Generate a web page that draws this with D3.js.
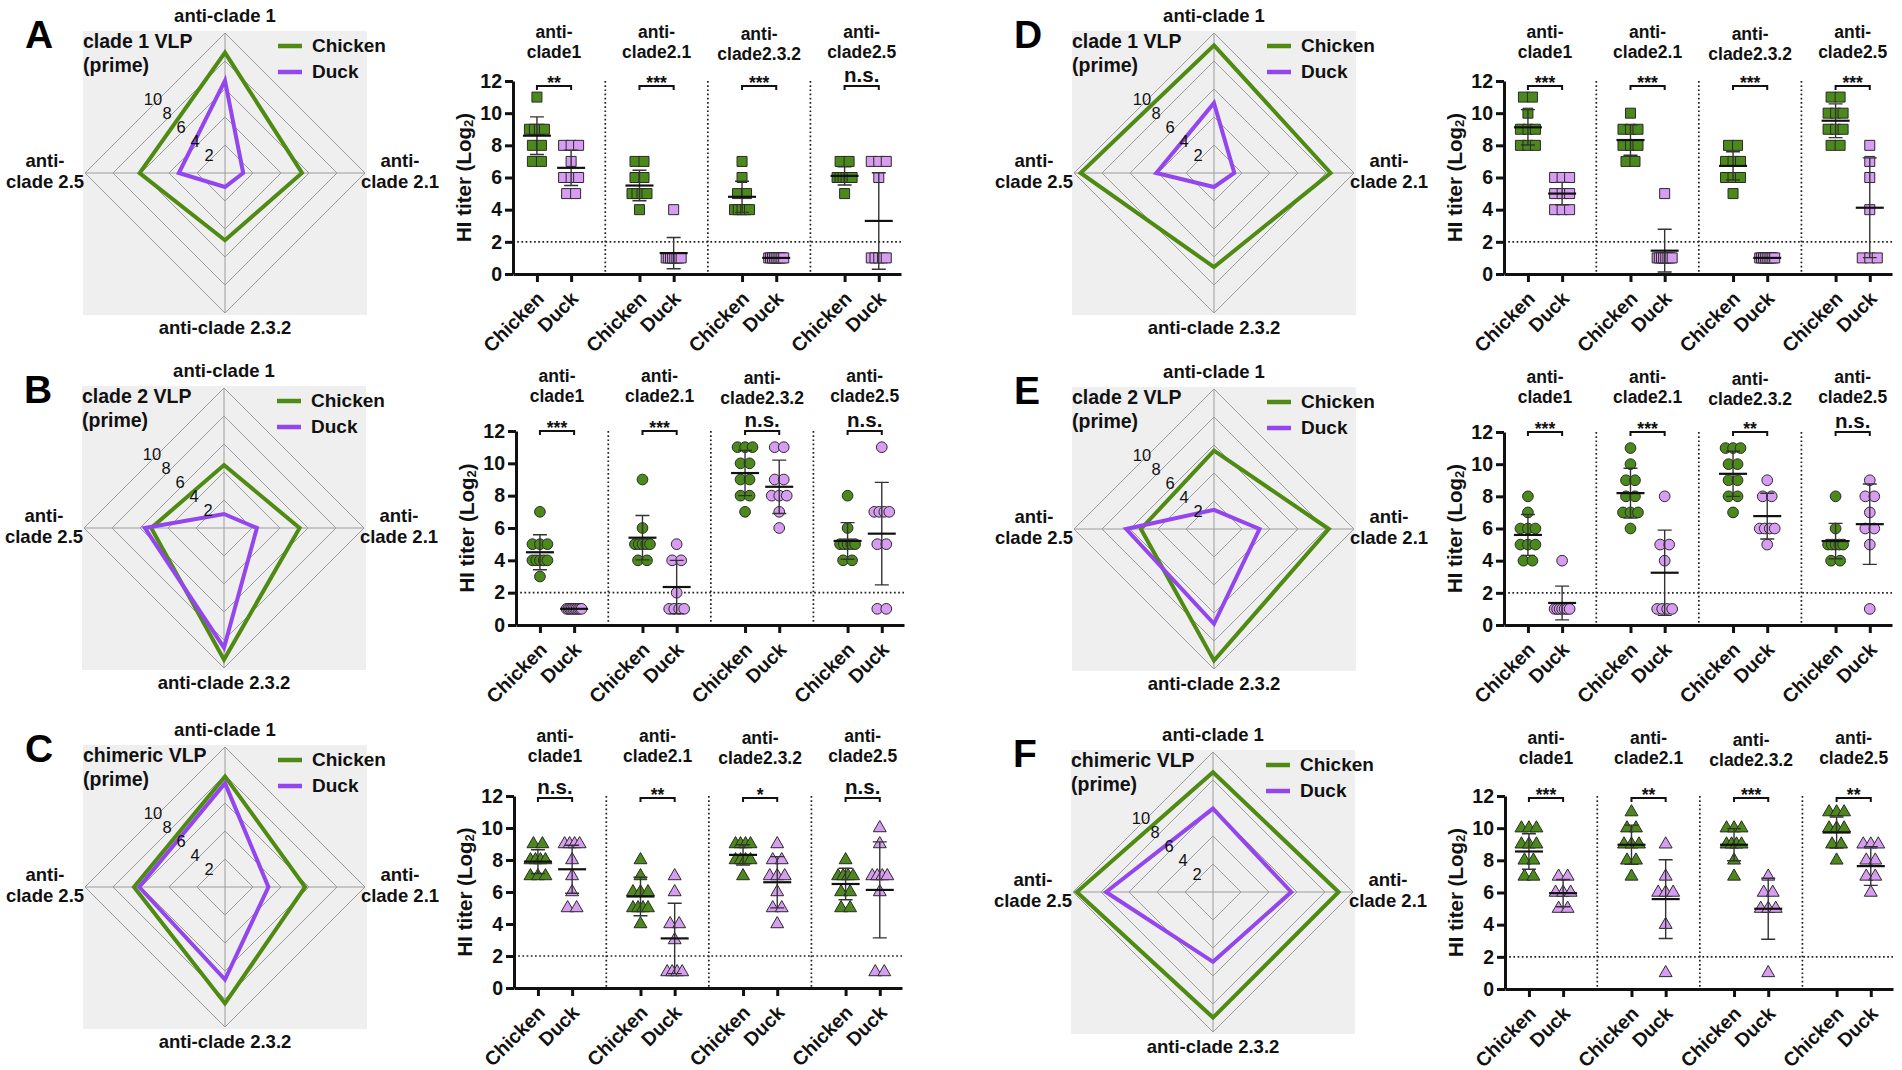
<!DOCTYPE html>
<html>
<head>
<meta charset="utf-8">
<script src="https://cdn.jsdelivr.net/npm/d3@7/dist/d3.min.js"></script>
<style>
  body { margin: 0; background: #fff; }
  text { font-family: Arial, "Liberation Sans", sans-serif; }
</style>
</head>
<body>
<svg id="fig"></svg>
<script>
// ---- data ----
const species = ['Chicken', 'Duck'];
const groupHeads = [['anti-', 'clade1'], ['anti-', 'clade2.1'], ['anti-', 'clade2.3.2'], ['anti-', 'clade2.5']];
const radarAxes = [['anti-clade 1'], ['anti-', 'clade 2.1'], ['anti-clade 2.3.2'], ['anti-', 'clade 2.5']];
const radarTicks = [2, 4, 6, 8, 10];
const yTicks = [0, 2, 4, 6, 8, 10, 12];
const letters = ['A', 'B', 'C', 'D', 'E', 'F'];
const vaccines = ['clade 1 VLP', 'clade 2 VLP', 'chimeric VLP', 'clade 1 VLP', 'clade 2 VLP', 'chimeric VLP'];

// order in every array: chicken/duck for clade1, clade2.1, clade2.3.2, clade2.5
const pointsA = [[11,9,9,9,9,8,8,7,7],[8,8,8,7,6,6,6,5,5],[7,7,6,6,5,5,5,5,4],[4,1,1,1,1,1,1,1,1],
                 [7,6,5,5,4,4,4,4,4],[1,1,1,1,1,1,1,1,1],[7,7,6,6,6,6,6,6,5],[7,7,7,6,1,1,1,1,1]];
const meansA = [8.6, 6.6, 5.5, 1.3, 4.8, 1.0, 6.1, 3.3];
const sdA = [1.17, 1.1, 0.95, 0.97, 0.97, 0, 0.57, 3.0];
const sigA = ['**', '***', '***', 'n.s.'];

const pointsB = [[7,5,5,5,4,4,4,4,4,3],[1,1,1,1,1,1,1,1,1,1],[9,6,5,5,5,5,5,4,4],[5,4,4,2,1,1,1,1],
                 [11,11,11,10,10,9,9,8,8,7],[11,11,9,9,8,8,8,7,6],[8,6,5,5,5,5,5,4,4],[11,7,7,7,7,5,5,1,1]];
const meansB = [4.5, 1.0, 5.4, 2.35, 9.4, 8.55, 5.2, 5.65];
const sdB = [1.08, 0, 1.37, 1.65, 1.4, 1.65, 1.13, 3.17];
const sigB = ['***', '***', 'n.s.', 'n.s.'];

const pointsC = [[9,9,8,8,8,8,7,7,7],[9,9,9,9,8,7,6,5,5],[8,7,6,6,6,5,5,5,5,4],[7,6,4,4,3,1,1,1,1],
                 [9,9,9,9,8,8,8,8,7],[9,8,8,7,7,7,6,5,5,4],[8,7,7,7,7,6,6,5,5],[10,9,7,7,7,7,6,1,1]];
const meansC = [7.9, 7.42, 5.72, 3.1, 8.32, 6.61, 6.5, 6.13];
const sdC = [0.74, 1.5, 1.2, 2.2, 0.63, 1.6, 0.98, 3.0];
const sigC = ['n.s.', '**', '*', 'n.s.'];

const pointsD = [[11,11,10,9,9,9,8,8,8],[6,6,6,5,5,5,4,4,4],[10,9,9,9,8,8,8,7,7],[5,1,1,1,1,1,1,1,1],
                 [8,8,7,7,7,6,6,6,5],[1,1,1,1,1,1,1,1,1],[11,11,10,10,10,9,9,9,8,8],[8,7,6,4,1,1,1]];
const meansD = [9.12, 5.0, 8.33, 1.45, 6.72, 1.0, 9.53, 4.12];
const sdD = [1.1, 0.7, 0.95, 1.33, 0.88, 0, 1.05, 3.1];
const sigD = ['***', '***', '***', '***'];

const pointsE = [[8,7,6,6,6,5,5,5,4,4],[4,1,1,1,1,1,1,1],[11,10,9,9,8,8,7,7,7,6],[8,5,5,4,1,1,1,1],
                 [11,11,11,10,10,9,9,8,8,7],[9,8,8,6,6,6,6,5],[8,6,5,5,5,5,5,4,4],[9,8,8,7,6,6,5,1]];
const meansE = [5.6, 1.37, 8.2, 3.25, 9.4, 6.77, 5.22, 6.27];
const sdE = [1.27, 1.05, 1.55, 2.65, 1.4, 1.42, 1.1, 2.5];
const sigE = ['***', '***', '**', 'n.s.'];

const pointsF = [[10,10,10,9,9,9,8,8,7,7],[7,7,6,6,6,5,5],[11,10,10,9,9,9,8,8,7],[9,7,6,6,6,4,1],
                 [10,10,10,9,9,9,9,8,7],[7,6,6,5,5,5,1],[11,11,11,10,10,10,9,9,8],[9,9,9,8,8,7,7,6]];
const meansF = [8.55, 5.96, 8.97, 5.59, 8.97, 4.99, 9.73, 7.64];
const sdF = [1.1, 0.85, 1.22, 2.45, 1.0, 1.9, 0.96, 1.2];
const sigF = ['***', '**', '***', '**'];

const allPoints = [pointsA, pointsB, pointsC, pointsD, pointsE, pointsF];
const allMeans = [meansA, meansB, meansC, meansD, meansE, meansF];
const allSd = [sdA, sdB, sdC, sdD, sdE, sdF];
const allSig = [sigA, sigB, sigC, sigD, sigE, sigF];

// ---- layout ----
const W = 1902, H = 1070;
const radarR = 140;
const radarCenters = [[225,173],[224,528],[225,887],[1214,173],[1214,529],[1213,892]];
const plotX0 = [513, 516, 514, 1504, 1504, 1505];
const plotY0 = [274, 625, 988, 274, 625, 989];
const plotY12 = [81, 431, 796, 81, 432, 796];
const headY = [38, 382, 742, 38, 383, 744];
const bracketY = [86, 431, 798, 86, 432, 798];
const shapes = [d3.symbolSquare, d3.symbolCircle, d3.symbolTriangle];
const shapeSize = [100, 90, 72];

const lineGreen = '#4f8a12', linePurple = '#9446ee';
const dotGreen = '#4b8a1a', dotPurple = '#d89cf2';

const svg = d3.select('#fig').attr('width', W).attr('height', H);
svg.append('rect').attr('width', W).attr('height', H).attr('fill', '#fff');

function drawRadar(i) {
  const [cx, cy] = radarCenters[i];
  const means = allMeans[i];
  const g = svg.append('g').attr('transform', `translate(${cx},${cy})`);
  const r = d3.scaleLinear().domain([0, 10]).range([0, radarR]);
  const ring = d3.lineRadial()
    .angle((d, k) => k * Math.PI / 2)
    .radius(d => r(d))
    .curve(d3.curveLinearClosed);

  g.append('rect')
    .attr('x', -radarR - 2).attr('y', -radarR - 2)
    .attr('width', 2 * radarR + 4).attr('height', 2 * radarR + 4)
    .attr('fill', '#efefef');

  radarTicks.forEach(t => {
    g.append('path').attr('d', ring([t, t, t, t]))
      .attr('fill', 'none').attr('stroke', '#9c9c9c').attr('stroke-width', 1);
  });
  [0, 1, 2, 3].forEach(k => {
    const a = k * Math.PI / 2;
    g.append('line').attr('x1', 0).attr('y1', 0)
      .attr('x2', r(10) * Math.sin(a)).attr('y2', -r(10) * Math.cos(a))
      .attr('stroke', '#9c9c9c').attr('stroke-width', 1);
  });

  const chick = [0, 2, 4, 6].map(k => means[k]);
  const duck = [1, 3, 5, 7].map(k => means[k]);
  g.append('path').attr('d', ring(chick)).attr('fill', 'none')
    .attr('stroke', lineGreen).attr('stroke-width', 4).attr('stroke-linejoin', 'miter');
  g.append('path').attr('d', ring(duck)).attr('fill', 'none')
    .attr('stroke', linePurple).attr('stroke-width', 4).attr('stroke-linejoin', 'miter');

  g.selectAll('text.rt').data(radarTicks).enter().append('text')
    .attr('x', d => -r(d) / 2 - 2).attr('y', d => -r(d) / 2 - 4)
    .attr('text-anchor', 'middle').attr('dominant-baseline', 'central')
    .attr('font-size', 16.5).attr('fill', '#111').text(d => d);

  const lab = (lines, x, y) => {
    const t = g.append('text').attr('text-anchor', 'middle')
      .attr('font-size', 18.5).attr('font-weight', 'bold').attr('fill', '#111');
    lines.forEach((s, j) => t.append('tspan').attr('x', x).attr('y', y + j * 21).text(s));
  };
  lab(radarAxes[0], 0, -151);
  lab(radarAxes[1], 175, -6);
  lab(radarAxes[2], 0, 161);
  lab(radarAxes[3], -180, -6);

  const title = g.append('text').attr('font-size', 19.5).attr('font-weight', 'bold').attr('fill', '#111');
  title.append('tspan').attr('x', -142).attr('y', -125).text(vaccines[i]);
  title.append('tspan').attr('x', -142).attr('y', -101).text('(prime)');

  [lineGreen, linePurple].forEach((c, j) => {
    g.append('line').attr('x1', 53).attr('x2', 77)
      .attr('y1', -127 + j * 26).attr('y2', -127 + j * 26)
      .attr('stroke', c).attr('stroke-width', 4.5);
    g.append('text').attr('x', 87).attr('y', -121 + j * 26)
      .attr('font-size', 19).attr('font-weight', 'bold').attr('fill', '#111')
      .text(species[j]);
  });

  g.append('text').attr('x', -200).attr('y', -125)
    .attr('font-size', 39).attr('font-weight', 'bold').attr('fill', '#000')
    .text(letters[i]);
}

function spread(vals) {
  const counts = d3.rollup(vals, v => v.length, d => d);
  const seen = new Map();
  return vals.map(v => {
    const n = counts.get(v), k = seen.get(v) || 0;
    seen.set(v, k + 1);
    const w = Math.min((n - 1) * 9, 15);
    return { v, dx: n > 1 ? -w / 2 + k * w / (n - 1) : 0 };
  });
}

function drawDots(i) {
  const x0 = plotX0[i];
  const x = d3.scaleLinear().domain([0.3, 11.65]).range([x0, x0 + 388]);
  const y = d3.scaleLinear().domain([0, 12]).range([plotY0[i], plotY12[i]]);
  const pos = k => Math.floor(k / 2) * 3 + 1 + (k % 2);
  const g = svg.append('g');
  const shape = d3.symbol().type(shapes[i % 3]).size(shapeSize[i % 3]);

  // dotted separators and LOD line
  [3, 6, 9].forEach(p => {
    g.append('line').attr('x1', x(p)).attr('x2', x(p))
      .attr('y1', y(12)).attr('y2', y(0))
      .attr('stroke', '#222').attr('stroke-width', 1.7).attr('stroke-dasharray', '1.7,2.5');
  });
  g.append('line').attr('x1', x0).attr('x2', x0 + 388)
    .attr('y1', y(2)).attr('y2', y(2))
    .attr('stroke', '#222').attr('stroke-width', 1.7).attr('stroke-dasharray', '1.7,2.5');

  // axes
  const ya = g.append('g').attr('transform', `translate(${x0},0)`)
    .call(d3.axisLeft(y).tickValues(yTicks).tickSize(8).tickSizeOuter(0).tickPadding(3));
  const xa = g.append('g').attr('transform', `translate(0,${plotY0[i]})`)
    .call(d3.axisBottom(x).tickValues(d3.range(8).map(pos)).tickSize(8).tickSizeOuter(0)
      .tickFormat((d, k) => species[k % 2]));
  [ya, xa].forEach(a => {
    a.select('.domain').attr('stroke', '#111').attr('stroke-width', 3);
    a.selectAll('.tick line').attr('stroke', '#111').attr('stroke-width', 3);
    a.selectAll('text').attr('font-size', 19.5).attr('font-weight', 'bold').attr('fill', '#111');
  });
  xa.selectAll('.tick text')
    .attr('text-anchor', 'end').attr('x', 0).attr('y', 0).attr('dy', '0.35em')
    .attr('transform', 'translate(3,21) rotate(-45)');

  g.append('text')
    .attr('transform', `translate(${x0 - 50},${(y(0) + y(12)) / 2}) rotate(-90)`)
    .attr('text-anchor', 'middle').attr('dominant-baseline', 'central')
    .attr('font-size', 20.5).attr('font-weight', 'bold').attr('fill', '#111')
    .call(t => {
      t.append('tspan').text('HI titer (Log');
      t.append('tspan').attr('font-size', 13).attr('dy', 5).text('2');
      t.append('tspan').attr('dy', -5).text(')');
    });

  // group headers, brackets, significance
  groupHeads.forEach((lines, gi) => {
    const cxh = x(gi * 3 + 1.5);
    const t = g.append('text').attr('text-anchor', 'middle')
      .attr('font-size', 17.5).attr('font-weight', 'bold').attr('fill', '#111');
    const off = gi === 2 ? 2 : 0;
    lines.forEach((s, j) => t.append('tspan').attr('x', cxh).attr('y', headY[i] + off + j * 20).text(s));

    const by = bracketY[i], xl = x(gi * 3 + 1), xr = x(gi * 3 + 2);
    g.append('path')
      .attr('d', `M${xl},${by + 4}V${by}H${xr}V${by + 4}`)
      .attr('fill', 'none').attr('stroke', '#111').attr('stroke-width', 2);
    const s = allSig[i][gi];
    const ns = s === 'n.s.';
    g.append('text').attr('x', cxh).attr('y', ns ? by - 4 : by + 3)
      .attr('text-anchor', 'middle').attr('font-weight', 'bold')
      .attr('font-size', ns ? 20.5 : 17.5).attr('fill', '#111').text(s);
  });

  // points, SD bars, means
  allPoints[i].forEach((vals, k) => {
    const cxp = x(pos(k));
    const fill = k % 2 ? dotPurple : dotGreen;
    g.selectAll(null).data(spread(vals)).enter().append('path')
      .attr('d', shape)
      .attr('transform', d => `translate(${cxp + d.dx},${y(d.v)})`)
      .attr('fill', fill).attr('stroke', '#2a2a2a').attr('stroke-width', 1);

    const m = allMeans[i][k], sd = allSd[i][k];
    if (sd > 0) {
      g.append('path')
        .attr('d', `M${cxp - 7},${y(m + sd)}H${cxp + 7}M${cxp},${y(m + sd)}V${y(Math.max(m - sd, 0))}M${cxp - 7},${y(Math.max(m - sd, 0))}H${cxp + 7}`)
        .attr('fill', 'none').attr('stroke', '#333').attr('stroke-width', 1.4);
    }
    g.append('line').attr('x1', cxp - 14).attr('x2', cxp + 14)
      .attr('y1', y(m)).attr('y2', y(m))
      .attr('stroke', '#111').attr('stroke-width', 2.2);
  });
}

for (let i = 0; i < 6; i++) {
  drawRadar(i);
  drawDots(i);
}
</script>
</body>
</html>
